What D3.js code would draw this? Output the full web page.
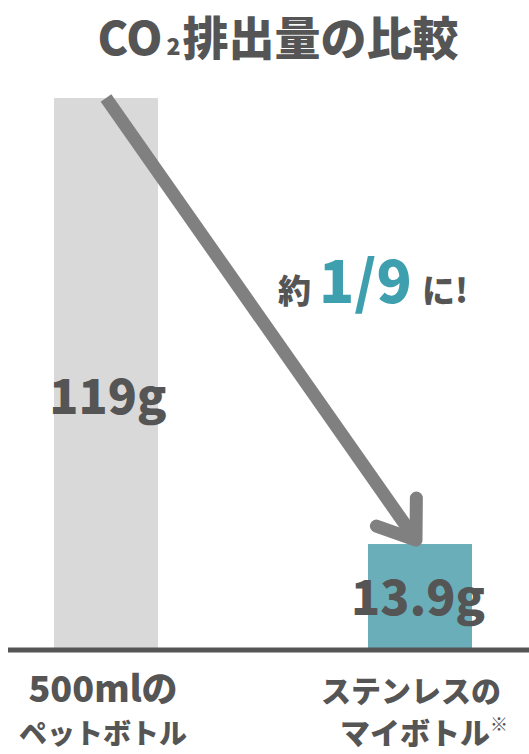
<!DOCTYPE html>
<html>
<head>
<meta charset="utf-8">
<script src="https://cdn.jsdelivr.net/npm/d3@7"></script>
<style>
body{margin:0;background:#fff}
text{font-family:"Noto Sans CJK JP","Noto Sans",sans-serif;font-weight:900}
</style>
</head>
<body>
<svg></svg>
<script>
// data
var categories = ["pet", "steel"]
var values = [119, 13.9]
var valueLabels = ["119g", "13.9g"]
var labelLine1 = ["500mlの", "ステンレスの"]
var labelLine2 = ["ペットボトル", "マイボトル"]
var barColors = ["#d9d9d9", "#6aaeb9"]

var screen = {width:529, height:754}
var baseY = 648

var svg = d3.select("svg")
    .attr("width", screen.width)
    .attr("height", screen.height)

var xScale = d3.scalePoint()
    .domain(categories)
    .range([106, 420])

// picture is not to scale, so the bottom of the domain sits below zero
var yScale = d3.scaleLinear()
    .domain([-10.6, 119])
    .range([baseY, 98])

var barW = 104

// title
var title = svg.append("text")
    .attr("x", 278).attr("y", 55)
    .attr("text-anchor", "middle")
    .attr("fill", "#555")
    .attr("font-size", 46)
title.append("tspan").text("CO")
title.append("tspan").text("2").attr("font-size", 23).attr("dx", 4)
title.append("tspan").text("排出量の比較").attr("dx", 2)

// bars
svg.selectAll(".bar")
    .data(categories)
    .enter()
    .append("rect")
    .attr("class", "bar")
    .attr("x", function(d){ return xScale(d) - barW/2 })
    .attr("width", barW)
    .attr("y", function(d,i){ return yScale(values[i]) })
    .attr("height", function(d,i){ return baseY - yScale(values[i]) })
    .attr("fill", function(d,i){ return barColors[i] })

// baseline
svg.append("line")
    .attr("x1", 8).attr("x2", 529)
    .attr("y1", baseY + 2).attr("y2", baseY + 2)
    .attr("stroke", "#555")
    .attr("stroke-width", 5)

// arrow from top of first bar to top of second
var x0 = xScale(categories[0]), y0 = yScale(values[0])
var x1 = xScale(categories[1]) - 4, y1 = yScale(values[1]) - 4
var ang = Math.atan2(y1 - y0, x1 - x0)
var headLen = 42, spread = 0.62
var arrow = svg.append("g")
    .attr("stroke", "#808080")
    .attr("stroke-width", 13)
    .attr("stroke-linecap", "round")
    .attr("stroke-linejoin", "round")
    .attr("fill", "none")
arrow.append("line")
    .attr("x1", x0).attr("y1", y0)
    .attr("x2", x1 - 3*Math.cos(ang)).attr("y2", y1 - 3*Math.sin(ang))
    .attr("stroke-linecap", "butt")
arrow.append("path")
    .attr("d", d3.line()([
        [x1 - headLen*Math.cos(ang - spread), y1 - headLen*Math.sin(ang - spread)],
        [x1, y1],
        [x1 - headLen*Math.cos(ang + spread), y1 - headLen*Math.sin(ang + spread)]
    ]))

// value labels
svg.selectAll(".val")
    .data(categories)
    .enter()
    .append("text")
    .attr("class", "val")
    .attr("x", function(d,i){ return xScale(d) + (i==1 ? -2 : 2) })
    .attr("y", function(d,i){ return i==0 ? 414 : 615 })
    .attr("text-anchor", "middle")
    .attr("fill", "#555")
    .attr("font-size", 48)
    .text(function(d,i){ return valueLabels[i] })

// ratio callout
var call = svg.append("text")
    .attr("x", 373).attr("y", 303)
    .attr("text-anchor", "middle")
    .attr("fill", "#555")
    .attr("font-size", 33)
call.append("tspan").text("約")
call.append("tspan").text("1/9").attr("fill", "#3e9fae").attr("font-size", 58).attr("dx", 8)
call.append("tspan").text("に!").attr("dx", 10)

// category labels
var size1 = [36, 30], size2 = [28, 30]
svg.selectAll(".cat1")
    .data(categories)
    .enter()
    .append("text")
    .attr("x", function(d,i){ return xScale(d) + (i==1 ? -9 : -3) })
    .attr("y", 702)
    .attr("text-anchor", "middle")
    .attr("fill", "#555")
    .attr("font-size", function(d,i){ return size1[i] })
    .text(function(d,i){ return labelLine1[i] })

var l2 = svg.selectAll(".cat2")
    .data(categories)
    .enter()
    .append("text")
    .attr("x", function(d,i){ return xScale(d) + (i==1 ? 4 : -3) })
    .attr("y", 744)
    .attr("text-anchor", "middle")
    .attr("fill", "#555")
    .attr("font-size", function(d,i){ return size2[i] })
l2.append("tspan").text(function(d,i){ return labelLine2[i] })
l2.filter(function(d,i){ return i==1 })
    .append("tspan").text("※")
    .attr("font-size", 18).attr("dy", -13)
</script>
</body>
</html>
